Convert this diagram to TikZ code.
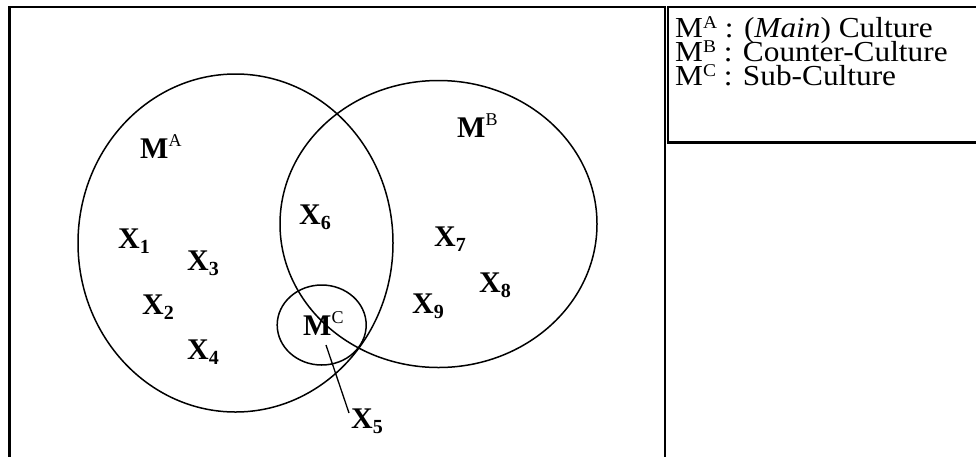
\documentclass[tikz,border=0pt]{standalone}
\usepackage{fontspec}
\setmainfont{Liberation Serif}
\newfontfamily\legfont[FakeStretch=1.08]{Liberation Serif}
\newcommand\xsub[1]{X\raisebox{-5pt}{\fontsize{20}{20}\selectfont #1}}
\newcommand\msup[1]{M\raisebox{12pt}{\fontsize{18}{18}\selectfont\mdseries #1}}
\newcommand\lsup[1]{M\raisebox{9pt}{\fontsize{18}{18}\selectfont #1}}
\begin{document}
\begin{tikzpicture}[x=1pt,y=-1pt,
  lbl/.style={inner sep=0pt, anchor=base west, font=\fontsize{30}{32}\selectfont\bfseries},
  leg/.style={inner sep=0pt, anchor=base west, font=\legfont\fontsize{29}{29}\selectfont},
  frame/.style={line width=2.2pt},
  set/.style={line width=1.5pt}]
\useasboundingbox (0,0) rectangle (976,456);
\clip (0,0) rectangle (976,456);
\fill[white] (0,0) rectangle (976,456);
% frames
\draw[frame] (9.5,7) rectangle (665,470);
\draw[frame] (668,7) rectangle (990,142.5);
% sets
\draw[set] (235.5,243) ellipse [x radius=157.5, y radius=169];
\draw[set] (438.5,224) ellipse [x radius=158.5, y radius=143.5];
\draw[set] (321.7,325) ellipse [x radius=44.5, y radius=40];
% labels
\node[lbl] (ma) at (140,158) {\msup{A}};
\node[lbl] (mb) at (457,137) {\msup{B}};
\node[lbl] (mc) at (303,335) {\msup{C}};
\node[lbl] (x1) at (118,248) {\xsub{1}};
\node[lbl] (x2) at (142,314) {\xsub{2}};
\node[lbl] (x3) at (187,270) {\xsub{3}};
\node[lbl] (x4) at (187,359) {\xsub{4}};
\node[lbl] (x5) at (351,428) {\xsub{5}};
\node[lbl] (x6) at (299,224) {\xsub{6}};
\node[lbl] (x7) at (434,246) {\xsub{7}};
\node[lbl] (x8) at (479,292) {\xsub{8}};
\node[lbl] (x9) at (412,313) {\xsub{9}};
% connector
\coordinate (cin) at (326,345);
\coordinate (cout) at (349,413);
\draw[line width=1.3pt] (cin) -- (cout);
% legend
\node[leg] (l1) at (675,37) {\lsup{A} : (\textit{Main}) Culture};
\node[leg] (l2) at (675,61) {\lsup{B} : Counter-Culture};
\node[leg] (l3) at (675,85) {\lsup{C} : Sub-Culture};
\end{tikzpicture}
\end{document}
